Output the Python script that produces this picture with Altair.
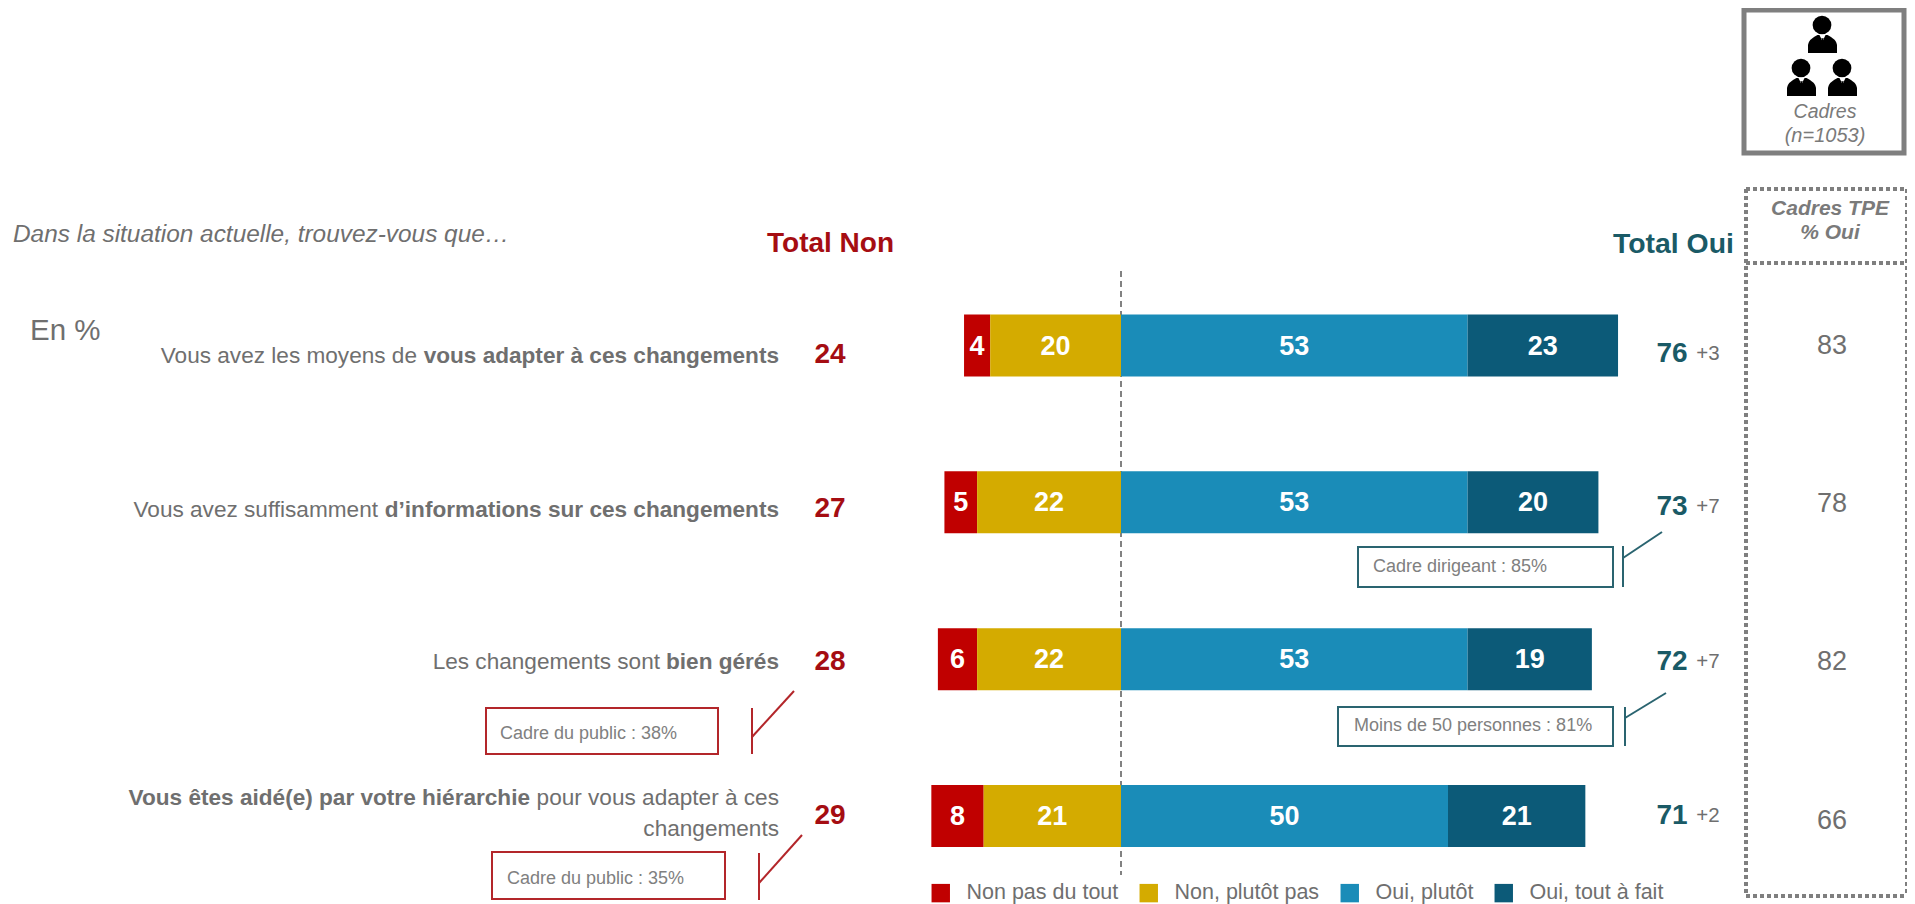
import altair as alt
import pandas as pd

# ---- chart values ----
questions = ["q1", "q2", "q3", "q4"]
non_pas_du_tout = [4, 5, 6, 8]
non_plutot_pas = [20, 22, 22, 21]
oui_plutot = [53, 53, 53, 50]
oui_tout_a_fait = [23, 20, 19, 21]
total_non = [24, 27, 28, 29]
total_oui = [76, 73, 72, 71]
evolution = ["+3", "+7", "+7", "+2"]
cadres_tpe = [83, 78, 82, 66]
series = ["Non pas du tout", "Non, plutôt pas", "Oui, plutôt", "Oui, tout à fait"]
colors = ["#c00000", "#d4ab00", "#1a8cb8", "#0c5a78"]

FONT = "Liberation Sans"
GRAY = "#6f6f6f"
RED = "#a50d12"
TEAL = "#1a5a66"
BOX_GRAY = "#7f7f7f"
W, H = 1899, 896
PX_PER_UNIT = 6.54
ZERO_PX = 1121


def px(v):
    return v - 8


def T(text, x, y, size, color=GRAY, align="left", bold=False, italic=False):
    return alt.Chart(alt.Data(values=[{}])).mark_text(
        text=text, font=FONT, fontSize=size, color=color, align=align, baseline="middle",
        fontWeight="bold" if bold else "normal", fontStyle="italic" if italic else "normal",
    ).encode(x=alt.value(px(x)), y=alt.value(px(y)))


def line(x1, y1, x2, y2, color, width=2, dash=None):
    kw = {"strokeDash": dash} if dash else {}
    return alt.Chart(alt.Data(values=[{}])).mark_rule(color=color, strokeWidth=width, **kw).encode(
        x=alt.value(px(x1)), x2=alt.value(px(x2)), y=alt.value(px(y1)), y2=alt.value(px(y2)))


def box(x1, y1, x2, y2, color, width=2):
    return alt.Chart(alt.Data(values=[{}])).mark_rect(
        fillOpacity=0, stroke=color, strokeWidth=width).encode(
        x=alt.value(px(x1)), x2=alt.value(px(x2)), y=alt.value(px(y1)), y2=alt.value(px(y2)))


def sym(path, x, y, size, color):
    return alt.Chart(alt.Data(values=[{}])).mark_point(
        shape=path, filled=True, fill=color, stroke=None, opacity=1, size=size).encode(
        x=alt.value(px(x)), y=alt.value(px(y)))


# ---- stacked segments ----
rows = []
for i, q in enumerate(questions):
    n1, n2, o1, o2 = non_pas_du_tout[i], non_plutot_pas[i], oui_plutot[i], oui_tout_a_fait[i]
    for name, a, b, v in [
        (series[0], -(n1 + n2), -n2, n1),
        (series[1], -n2, 0, n2),
        (series[2], 0, o1, o1),
        (series[3], o1, o1 + o2, o2),
    ]:
        rows.append({"question": q, "serie": name, "start": a, "end": b, "mid": (a + b) / 2, "value": v})
df = pd.DataFrame(rows)

x_scale = alt.Scale(domain=[-px(ZERO_PX) / PX_PER_UNIT, (W - px(ZERO_PX)) / PX_PER_UNIT], nice=False, zero=False)
y_scale = alt.Scale(type="point", domain=questions, range=[337.5, 808], padding=0)

zero_line = alt.Chart(alt.Data(values=[{"v": 0}])).mark_rule(
    color="#5a5a5a", strokeWidth=1.5, strokeDash=[6, 4]).encode(
    x=alt.X("v:Q", scale=x_scale, axis=None), y=alt.value(px(271)), y2=alt.value(px(875)))

bars = alt.Chart(df).mark_bar(size=62).encode(
    x=alt.X("start:Q", scale=x_scale, axis=None),
    x2="end:Q",
    y=alt.Y("question:N", scale=y_scale, axis=None),
    color=alt.Color("serie:N", scale=alt.Scale(domain=series, range=colors), legend=alt.Legend(
        title=None, orient="none", legendX=px(930), legendY=px(882), direction="horizontal", columns=4,
        symbolType="square", symbolSize=340, symbolStrokeWidth=0, symbolOpacity=1, labelFont=FONT,
        labelFontSize=21.5, labelColor=GRAY, labelOffset=15, columnPadding=19, labelLimit=300)),
)
bar_labels = alt.Chart(df).mark_text(
    font=FONT, fontSize=27, fontWeight="bold", color="white", baseline="middle", dy=1).encode(
    x=alt.X("mid:Q", scale=x_scale, axis=None),
    y=alt.Y("question:N", scale=y_scale, axis=None),
    text="value:Q")

layers = [zero_line, bars, bar_labels]

# ---- layout of the rows ----
left_y = [355, 509, 662, 816]
right_y = [354, 507, 662, 816]
tpe_y = [346, 504, 662, 821]
for i in range(4):
    layers.append(T(str(total_non[i]), 830, left_y[i], 28, RED, "center", bold=True))
    layers.append(T(str(total_oui[i]), 1672, right_y[i], 28, TEAL, "center", bold=True))
    layers.append(T(evolution[i], 1708, right_y[i], 20.5, GRAY, "center"))
    layers.append(T(str(cadres_tpe[i]), 1832, tpe_y[i], 27, GRAY, "center"))

# question labels
QS = 22.6
layers += [
    T("vous adapter à ces changements", 779, 356, QS, align="right", bold=True),
    T("Vous avez les moyens de", 417, 356, QS, align="right"),
    T("d’informations sur ces changements", 779, 510, QS, align="right", bold=True),
    T("Vous avez suffisamment", 378, 510, QS, align="right"),
    T("bien gérés", 779, 662, QS, align="right", bold=True),
    T("Les changements sont", 660, 662, QS, align="right"),
    T("pour vous adapter à ces", 779, 798, QS, align="right"),
    T("Vous êtes aidé(e) par votre hiérarchie", 530, 798, QS, align="right", bold=True),
    T("changements", 779, 829, QS, align="right"),
]

# headers
layers += [
    T("Dans la situation actuelle, trouvez-vous que…", 13, 235, 24.4, italic=True),
    T("En %", 30, 331, 29.5),
    T("Total Non", 767, 244, 28, RED, bold=True),
    T("Total Oui", 1613, 244, 28.4, TEAL, bold=True),
    T("Cadres", 1825, 112, 19.5, "#7a7a7a", "center", italic=True),
    T("(n=1053)", 1825, 136, 20, "#7a7a7a", "center", italic=True),
    T("Cadres TPE", 1830, 209, 21, "#7a7a7a", "center", bold=True, italic=True),
    T("% Oui", 1830, 233, 21, "#7a7a7a", "center", bold=True, italic=True),
]

# boxes on the right
layers += [
    box(1744, 10, 1904, 153, BOX_GRAY, 5),
    line(1746, 189, 1906, 189, BOX_GRAY, 4, [4, 3]),
    line(1746, 263, 1906, 263, BOX_GRAY, 4, [4, 3]),
    line(1746, 896, 1906, 896, BOX_GRAY, 4, [4, 3]),
    line(1746, 189, 1746, 896, BOX_GRAY, 4, [4, 3]),
    line(1906, 189, 1906, 896, BOX_GRAY, 2, [4, 3]),
]

# icon
BODY = "M-1,0.62 L-1,0.05 Q-0.95,-0.32 -0.35,-0.62 L0.35,-0.62 Q0.95,-0.32 1,0.05 L1,0.62 Z"
TIE = "M-0.35,-1 L0.35,-1 L0.12,-0.6 L0.3,1 L0,1.4 L-0.3,1 L-0.12,-0.6 Z"
COLLAR = "M-1,-1 L1,-1 L0,1 Z"
for hx, hy, bx, by in [(1822, 25, 1822.5, 44), (1801, 68, 1801.5, 87), (1842, 68, 1842.5, 87)]:
    layers += [
        sym("circle", hx, hy, 350, "black"),
        sym(BODY, bx, by, 841, "black"),
        sym(COLLAR, bx, by - 6, 40, "white"),
        sym(TIE, bx, by - 2, 60, "black"),
    ]

# callouts
TEAL_BOX = "#2a6470"
RED_BOX = "#b3262a"
layers += [
    box(1358, 547, 1613, 587, TEAL_BOX),
    T("Cadre dirigeant : 85%", 1373, 567, 18, "#808080"),
    line(1623, 546, 1623, 587, TEAL_BOX),
    line(1623, 558, 1662, 532, TEAL_BOX),
    box(1338, 707, 1613, 746, TEAL_BOX),
    T("Moins de 50 personnes : 81%", 1354, 726, 18, "#808080"),
    line(1625, 707, 1625, 746, TEAL_BOX),
    line(1625, 718, 1666, 693, TEAL_BOX),
    box(486, 708, 718, 754, RED_BOX),
    T("Cadre du public : 38%", 500, 734, 18, "#808080"),
    line(752, 708, 752, 754, RED_BOX),
    line(752, 737, 794, 691, RED_BOX),
    box(492, 852, 725, 899, RED_BOX),
    T("Cadre du public : 35%", 507, 879, 18, "#808080"),
    line(759, 853, 759, 900, RED_BOX),
    line(759, 883, 802, 835, RED_BOX),
]

chart = alt.layer(*layers).properties(
    width=W, height=H, padding=0, autosize=alt.AutoSizeParams(type="none"), background="white",
).configure_view(stroke=None)

chart.save("out.html", embed_options={"renderer": "svg", "actions": False})
